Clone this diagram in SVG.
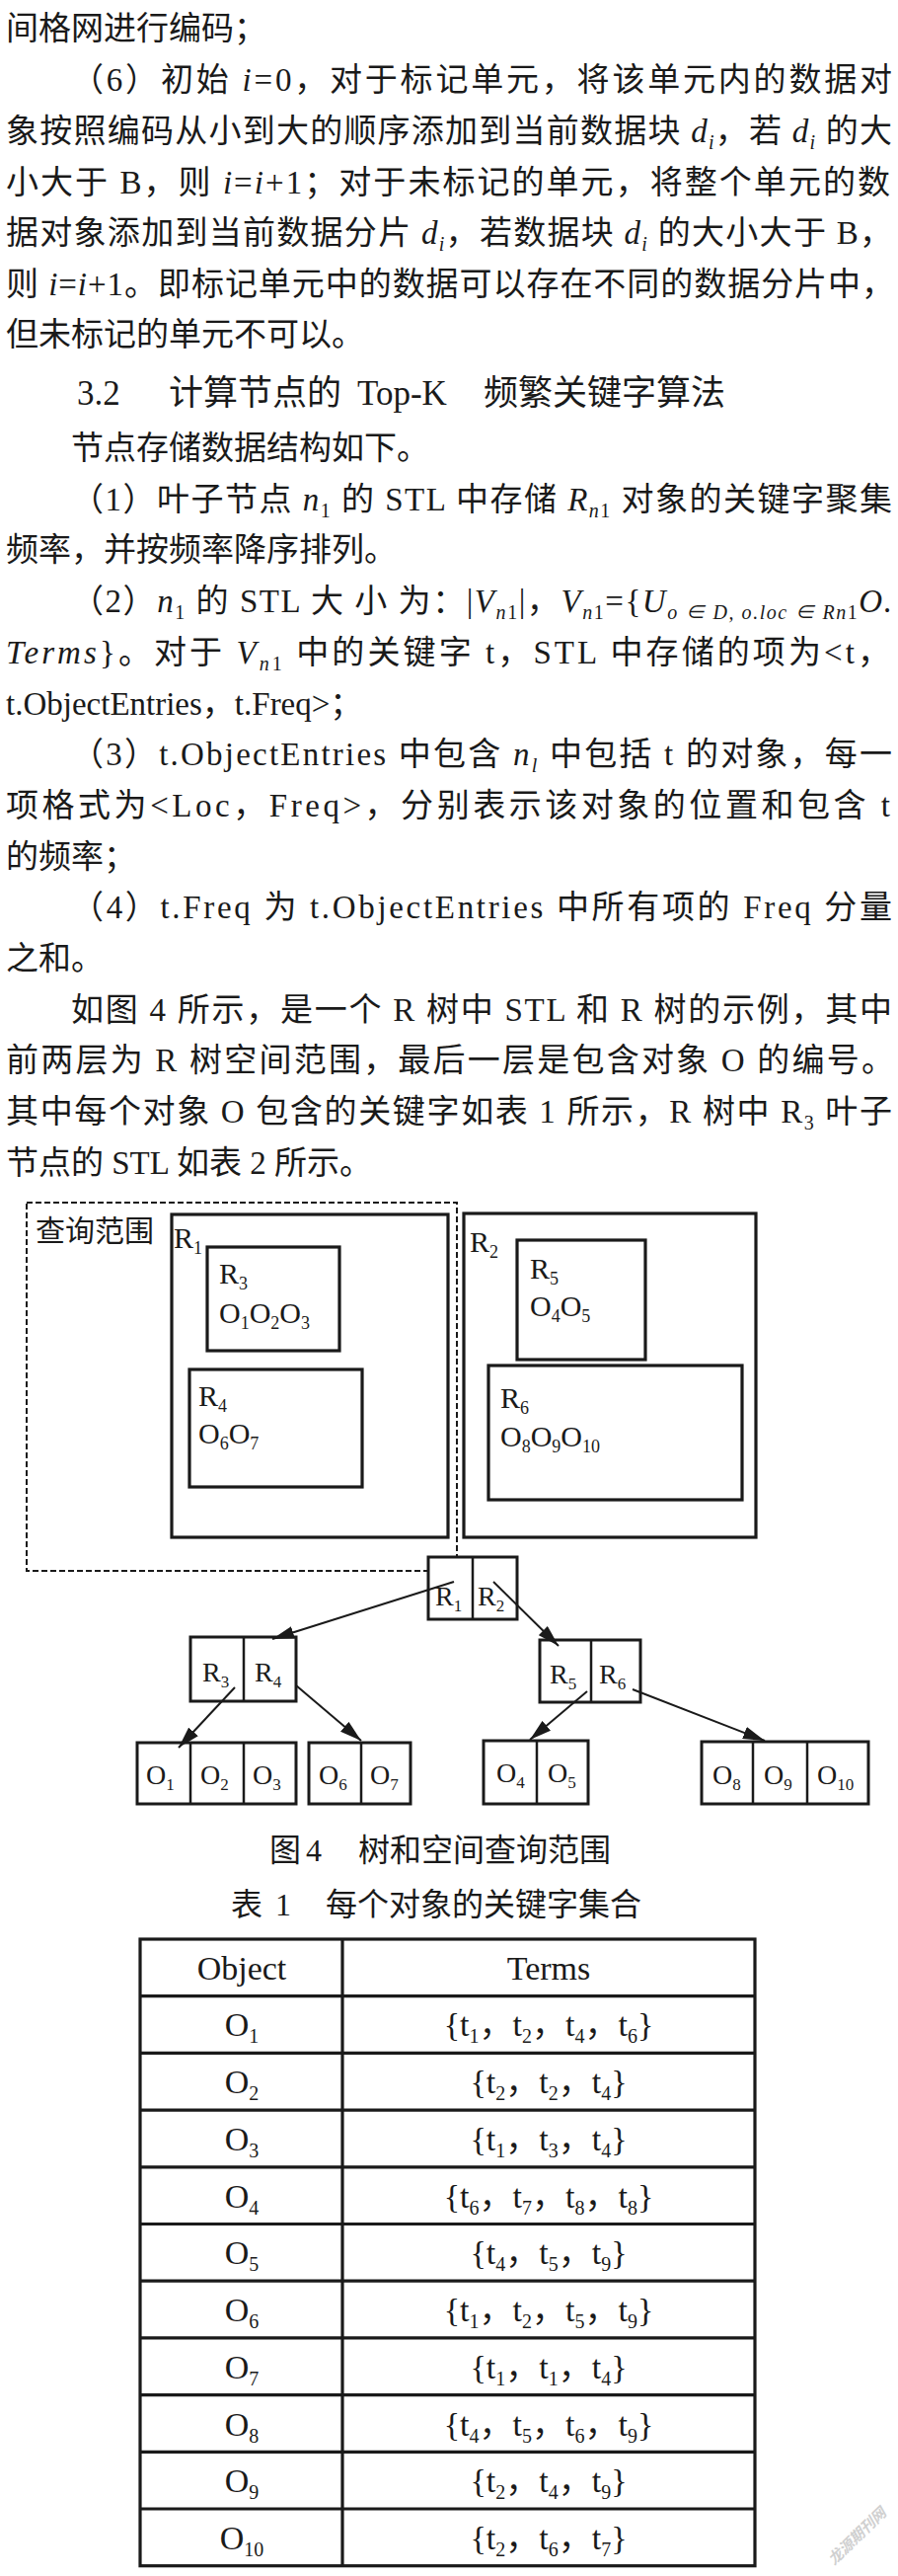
<svg xmlns="http://www.w3.org/2000/svg" width="910" height="2609" viewBox="0 0 910 2609">
<style>
.b{font-family:"Liberation Serif","Noto Sans CJK SC",serif;font-size:33px;fill:#1a1a1a}
.h{font-family:"Liberation Serif","Noto Sans CJK SC",serif;font-size:35px;fill:#1a1a1a}
.i{font-style:italic}
.s{font-size:20px}
.lb{font-family:"Liberation Serif","Noto Sans CJK SC",serif;font-size:30px;fill:#1a1a1a}
.ls{font-size:18px}
.tn{font-family:"Liberation Serif",serif;font-size:28px;fill:#1a1a1a}
.ts{font-size:17px}
.cap{font-family:"Liberation Serif","Noto Sans CJK SC",serif;font-size:32px;fill:#1a1a1a}
.tt{font-family:"Liberation Serif","Noto Sans CJK SC",serif;font-size:34px;fill:#1a1a1a;text-anchor:middle}
.tsub{font-size:20px}
.box{fill:none;stroke:#1a1a1a;stroke-width:3.2}
.nd{fill:#fff;stroke:#1a1a1a;stroke-width:3}
.dv{stroke:#1a1a1a;stroke-width:2.5}
.ar{stroke:#1a1a1a;stroke-width:2;fill:none;marker-end:url(#ah)}
.tl{stroke:#1a1a1a;stroke-width:3.2;fill:none}
</style>
<defs>
<marker id="ah" viewBox="0 0 22 13" refX="22" refY="6.5" markerWidth="22" markerHeight="13" markerUnits="userSpaceOnUse" orient="auto"><path d="M0,0 L22,6.5 L0,13 z" fill="#1a1a1a"/></marker>
</defs>
<rect x="0" y="0" width="910" height="2609" fill="#fff"/>

<g id="body-text">
<text class="b" x="6" y="40">间格网进行编码；</text>
<text class="b" x="72" y="92" textLength="832">（6）初始 <tspan class="i">i</tspan>=0，对于标记单元，将该单元内的数据对</text>
<text class="b" x="6" y="144" textLength="898">象按照编码从小到大的顺序添加到当前数据块 <tspan class="i">d</tspan><tspan class="s i" dy="7">i</tspan><tspan dy="-7">，若 </tspan><tspan class="i">d</tspan><tspan class="s i" dy="7">i</tspan><tspan dy="-7"> 的大</tspan></text>
<text class="b" x="6" y="196" textLength="896">小大于 B，则 <tspan class="i">i</tspan>=<tspan class="i">i</tspan>+1；对于未标记的单元，将整个单元的数</text>
<text class="b" x="6" y="247" textLength="898">据对象添加到当前数据分片 <tspan class="i">d</tspan><tspan class="s i" dy="7">i</tspan><tspan dy="-7">，若数据块 </tspan><tspan class="i">d</tspan><tspan class="s i" dy="7">i</tspan><tspan dy="-7"> 的大小大于 B，</tspan></text>
<text class="b" x="6" y="299" textLength="900">则 <tspan class="i">i</tspan>=<tspan class="i">i</tspan>+1。即标记单元中的数据可以存在不同的数据分片中，</text>
<text class="b" x="6" y="350">但未标记的单元不可以。</text>
<text class="h" x="78" y="410">3.2<tspan x="171">计算节点的</tspan><tspan x="362">Top-K</tspan><tspan x="490">频繁关键字算法</tspan></text>
<text class="b" x="72" y="465">节点存储数据结构如下。</text>
<text class="b" x="72" y="517" textLength="832">（1）叶子节点 <tspan class="i">n</tspan><tspan class="s" dy="7">1</tspan><tspan dy="-7"> 的 STL 中存储 </tspan><tspan class="i">R</tspan><tspan class="s i" dy="7">n</tspan><tspan class="s">1</tspan><tspan dy="-7"> 对象的关键字聚集</tspan></text>
<text class="b" x="6" y="568">频率，并按频率降序排列。</text>
<text class="b" x="72" y="620" textLength="832">（2）<tspan class="i">n</tspan><tspan class="s" dy="7">1</tspan><tspan dy="-7"> 的 STL 大 小 为：|</tspan><tspan class="i">V</tspan><tspan class="s i" dy="7">n</tspan><tspan class="s">1</tspan><tspan dy="-7">|，</tspan><tspan class="i">V</tspan><tspan class="s i" dy="7">n</tspan><tspan class="s">1</tspan><tspan dy="-7">={</tspan><tspan class="i">U</tspan><tspan class="s i" dy="7">o ∈ D, o.loc ∈ Rn</tspan><tspan class="s">1</tspan><tspan class="i" dy="-7">O.</tspan></text>
<text class="b" x="6" y="672" textLength="896"><tspan class="i">Terms</tspan>}。对于 <tspan class="i">V</tspan><tspan class="s i" dy="7">n</tspan><tspan class="s">1</tspan><tspan dy="-7"> 中的关键字 t，STL 中存储的项为&lt;t，</tspan></text>
<text class="b" x="6" y="724">t.ObjectEntries，t.Freq&gt;；</text>
<text class="b" x="72" y="775" textLength="832">（3）t.ObjectEntries 中包含 <tspan class="i">n</tspan><tspan class="s i" dy="7">l</tspan><tspan dy="-7"> 中包括 t 的对象，每一</tspan></text>
<text class="b" x="6" y="827" textLength="896">项格式为&lt;Loc，Freq&gt;，分别表示该对象的位置和包含 t</text>
<text class="b" x="6" y="879">的频率；</text>
<text class="b" x="72" y="930" textLength="832">（4）t.Freq 为 t.ObjectEntries 中所有项的 Freq 分量</text>
<text class="b" x="6" y="982">之和。</text>
<text class="b" x="72" y="1034" textLength="832">如图 4 所示，是一个 R 树中 STL 和 R 树的示例，其中</text>
<text class="b" x="6" y="1085" textLength="900">前两层为 R 树空间范围，最后一层是包含对象 O 的编号。</text>
<text class="b" x="6" y="1137" textLength="898">其中每个对象 O 包含的关键字如表 1 所示，R 树中 R<tspan class="s" dy="7">3</tspan><tspan dy="-7"> 叶子</tspan></text>
<text class="b" x="6" y="1189">节点的 STL 如表 2 所示。</text>
</g>

<g id="spatial-layout">
<g id="query-range">
<rect x="27" y="1218" width="436" height="373" fill="none" stroke="#1a1a1a" stroke-width="2" stroke-dasharray="6 3"/>
<text class="lb" x="36" y="1257">查询范围</text>
</g>
<g id="region-R1">
<rect class="box" x="174" y="1230" width="280" height="327"/>
<text class="lb" x="176" y="1264">R<tspan class="ls" dy="6">1</tspan></text>
</g>
<g id="region-R3">
<rect class="box" x="210" y="1263" width="134" height="105"/>
<text class="lb" x="222" y="1300">R<tspan class="ls" dy="6">3</tspan></text>
<text class="lb" x="222" y="1340">O<tspan class="ls" dy="6">1</tspan><tspan dy="-6">O</tspan><tspan class="ls" dy="6">2</tspan><tspan dy="-6">O</tspan><tspan class="ls" dy="6">3</tspan></text>
</g>
<g id="region-R4">
<rect class="box" x="192" y="1387" width="175" height="119"/>
<text class="lb" x="201" y="1424">R<tspan class="ls" dy="6">4</tspan></text>
<text class="lb" x="201" y="1462">O<tspan class="ls" dy="6">6</tspan><tspan dy="-6">O</tspan><tspan class="ls" dy="6">7</tspan></text>
</g>
<g id="region-R2">
<rect class="box" x="470" y="1229" width="296" height="328"/>
<text class="lb" x="476" y="1268">R<tspan class="ls" dy="6">2</tspan></text>
</g>
<g id="region-R5">
<rect class="box" x="524" y="1256" width="130" height="121"/>
<text class="lb" x="537" y="1295">R<tspan class="ls" dy="6">5</tspan></text>
<text class="lb" x="537" y="1333">O<tspan class="ls" dy="6">4</tspan><tspan dy="-6">O</tspan><tspan class="ls" dy="6">5</tspan></text>
</g>
<g id="region-R6">
<rect class="box" x="495" y="1383" width="257" height="136"/>
<text class="lb" x="507" y="1426">R<tspan class="ls" dy="6">6</tspan></text>
<text class="lb" x="507" y="1465">O<tspan class="ls" dy="6">8</tspan><tspan dy="-6">O</tspan><tspan class="ls" dy="6">9</tspan><tspan dy="-6">O</tspan><tspan class="ls" dy="6">10</tspan></text>
</g>
</g>

<g id="tree">
<g id="node-root">
<rect class="nd" x="434" y="1577" width="90" height="63"/>
<line class="dv" x1="479" y1="1577" x2="479" y2="1640"/>
<text class="tn" x="441" y="1626">R<tspan class="ts" dy="6">1</tspan></text>
<text class="tn" x="484" y="1626">R<tspan class="ts" dy="6">2</tspan></text>
</g>
<g id="node-R3R4">
<rect class="nd" x="193" y="1658" width="107" height="65"/>
<line class="dv" x1="247" y1="1658" x2="247" y2="1723"/>
<text class="tn" x="205" y="1703">R<tspan class="ts" dy="6">3</tspan></text>
<text class="tn" x="258" y="1703">R<tspan class="ts" dy="6">4</tspan></text>
</g>
<g id="node-R5R6">
<rect class="nd" x="547" y="1661" width="102" height="63"/>
<line class="dv" x1="599" y1="1661" x2="599" y2="1724"/>
<text class="tn" x="557" y="1705">R<tspan class="ts" dy="6">5</tspan></text>
<text class="tn" x="607" y="1705">R<tspan class="ts" dy="6">6</tspan></text>
</g>
<g id="leaf-O1O2O3">
<rect class="nd" x="139" y="1765" width="161" height="62"/>
<line class="dv" x1="193" y1="1765" x2="193" y2="1827"/>
<line class="dv" x1="247" y1="1765" x2="247" y2="1827"/>
<text class="tn" x="148" y="1807">O<tspan class="ts" dy="6">1</tspan></text>
<text class="tn" x="203" y="1807">O<tspan class="ts" dy="6">2</tspan></text>
<text class="tn" x="256" y="1807">O<tspan class="ts" dy="6">3</tspan></text>
</g>
<g id="leaf-O6O7">
<rect class="nd" x="313" y="1765" width="103" height="62"/>
<line class="dv" x1="366" y1="1765" x2="366" y2="1827"/>
<text class="tn" x="323" y="1807">O<tspan class="ts" dy="6">6</tspan></text>
<text class="tn" x="375" y="1807">O<tspan class="ts" dy="6">7</tspan></text>
</g>
<g id="leaf-O4O5">
<rect class="nd" x="490" y="1763" width="106" height="64"/>
<line class="dv" x1="544" y1="1763" x2="544" y2="1827"/>
<text class="tn" x="503" y="1805">O<tspan class="ts" dy="6">4</tspan></text>
<text class="tn" x="555" y="1805">O<tspan class="ts" dy="6">5</tspan></text>
</g>
<g id="leaf-O8O9O10">
<rect class="nd" x="711" y="1764" width="169" height="63"/>
<line class="dv" x1="763" y1="1764" x2="763" y2="1827"/>
<line class="dv" x1="818" y1="1764" x2="818" y2="1827"/>
<text class="tn" x="722" y="1807">O<tspan class="ts" dy="6">8</tspan></text>
<text class="tn" x="774" y="1807">O<tspan class="ts" dy="6">9</tspan></text>
<text class="tn" x="828" y="1807">O<tspan class="ts" dy="6">10</tspan></text>
</g>
</g>

<g id="connectors">
<line class="ar" x1="460" y1="1602" x2="276" y2="1660"/>
<line class="ar" x1="500" y1="1602" x2="566" y2="1667"/>
<line class="ar" x1="238" y1="1709" x2="181" y2="1770"/>
<line class="ar" x1="300" y1="1707" x2="366" y2="1763"/>
<line class="ar" x1="595" y1="1713" x2="537" y2="1762"/>
<line class="ar" x1="641" y1="1711" x2="775" y2="1763"/>
</g>

<g id="captions">
<text class="cap" x="273" y="1885">图 <tspan x="310">4</tspan><tspan x="363">树和空间查询范围</tspan></text>
<text class="cap" x="234" y="1940">表 <tspan x="279">1</tspan><tspan x="330">每个对象的关键字集合</tspan></text>
</g>

<g id="table1">
<rect class="tl" x="142" y="1964" width="623" height="634.7"/>
<line class="tl" x1="347" y1="1964" x2="347" y2="2598.7"/>
<line class="tl" x1="142" y1="2021.7" x2="765" y2="2021.7"/>
<line class="tl" x1="142" y1="2079.4" x2="765" y2="2079.4"/>
<line class="tl" x1="142" y1="2137.1" x2="765" y2="2137.1"/>
<line class="tl" x1="142" y1="2194.8" x2="765" y2="2194.8"/>
<line class="tl" x1="142" y1="2252.5" x2="765" y2="2252.5"/>
<line class="tl" x1="142" y1="2310.2" x2="765" y2="2310.2"/>
<line class="tl" x1="142" y1="2367.9" x2="765" y2="2367.9"/>
<line class="tl" x1="142" y1="2425.6" x2="765" y2="2425.6"/>
<line class="tl" x1="142" y1="2483.3" x2="765" y2="2483.3"/>
<line class="tl" x1="142" y1="2541" x2="765" y2="2541"/>
<text class="tt" x="245" y="2005">Object</text>
<text class="tt" x="556" y="2005">Terms</text>
<text class="tt" x="245" y="2062">O<tspan class="tsub" dy="7">1</tspan></text>
<text class="tt" x="556" y="2062">{t<tspan class="tsub" dy="7">1</tspan><tspan dy="-7">，t</tspan><tspan class="tsub" dy="7">2</tspan><tspan dy="-7">，t</tspan><tspan class="tsub" dy="7">4</tspan><tspan dy="-7">，t</tspan><tspan class="tsub" dy="7">6</tspan><tspan dy="-7">}</tspan></text>
<text class="tt" x="245" y="2120">O<tspan class="tsub" dy="7">2</tspan></text>
<text class="tt" x="556" y="2120">{t<tspan class="tsub" dy="7">2</tspan><tspan dy="-7">，t</tspan><tspan class="tsub" dy="7">2</tspan><tspan dy="-7">，t</tspan><tspan class="tsub" dy="7">4</tspan><tspan dy="-7">}</tspan></text>
<text class="tt" x="245" y="2178">O<tspan class="tsub" dy="7">3</tspan></text>
<text class="tt" x="556" y="2178">{t<tspan class="tsub" dy="7">1</tspan><tspan dy="-7">，t</tspan><tspan class="tsub" dy="7">3</tspan><tspan dy="-7">，t</tspan><tspan class="tsub" dy="7">4</tspan><tspan dy="-7">}</tspan></text>
<text class="tt" x="245" y="2236">O<tspan class="tsub" dy="7">4</tspan></text>
<text class="tt" x="556" y="2236">{t<tspan class="tsub" dy="7">6</tspan><tspan dy="-7">，t</tspan><tspan class="tsub" dy="7">7</tspan><tspan dy="-7">，t</tspan><tspan class="tsub" dy="7">8</tspan><tspan dy="-7">，t</tspan><tspan class="tsub" dy="7">8</tspan><tspan dy="-7">}</tspan></text>
<text class="tt" x="245" y="2293">O<tspan class="tsub" dy="7">5</tspan></text>
<text class="tt" x="556" y="2293">{t<tspan class="tsub" dy="7">4</tspan><tspan dy="-7">，t</tspan><tspan class="tsub" dy="7">5</tspan><tspan dy="-7">，t</tspan><tspan class="tsub" dy="7">9</tspan><tspan dy="-7">}</tspan></text>
<text class="tt" x="245" y="2351">O<tspan class="tsub" dy="7">6</tspan></text>
<text class="tt" x="556" y="2351">{t<tspan class="tsub" dy="7">1</tspan><tspan dy="-7">，t</tspan><tspan class="tsub" dy="7">2</tspan><tspan dy="-7">，t</tspan><tspan class="tsub" dy="7">5</tspan><tspan dy="-7">，t</tspan><tspan class="tsub" dy="7">9</tspan><tspan dy="-7">}</tspan></text>
<text class="tt" x="245" y="2409">O<tspan class="tsub" dy="7">7</tspan></text>
<text class="tt" x="556" y="2409">{t<tspan class="tsub" dy="7">1</tspan><tspan dy="-7">，t</tspan><tspan class="tsub" dy="7">1</tspan><tspan dy="-7">，t</tspan><tspan class="tsub" dy="7">4</tspan><tspan dy="-7">}</tspan></text>
<text class="tt" x="245" y="2467">O<tspan class="tsub" dy="7">8</tspan></text>
<text class="tt" x="556" y="2467">{t<tspan class="tsub" dy="7">4</tspan><tspan dy="-7">，t</tspan><tspan class="tsub" dy="7">5</tspan><tspan dy="-7">，t</tspan><tspan class="tsub" dy="7">6</tspan><tspan dy="-7">，t</tspan><tspan class="tsub" dy="7">9</tspan><tspan dy="-7">}</tspan></text>
<text class="tt" x="245" y="2524">O<tspan class="tsub" dy="7">9</tspan></text>
<text class="tt" x="556" y="2524">{t<tspan class="tsub" dy="7">2</tspan><tspan dy="-7">，t</tspan><tspan class="tsub" dy="7">4</tspan><tspan dy="-7">，t</tspan><tspan class="tsub" dy="7">9</tspan><tspan dy="-7">}</tspan></text>
<text class="tt" x="245" y="2582">O<tspan class="tsub" dy="7">10</tspan></text>
<text class="tt" x="556" y="2582">{t<tspan class="tsub" dy="7">2</tspan><tspan dy="-7">，t</tspan><tspan class="tsub" dy="7">6</tspan><tspan dy="-7">，t</tspan><tspan class="tsub" dy="7">7</tspan><tspan dy="-7">}</tspan></text>
</g>

<g id="watermark">
<text x="868" y="2574" transform="rotate(-44 868 2568)" font-family="Noto Sans CJK SC, sans-serif" font-size="15" font-style="italic" font-weight="bold" fill="#d0d0d0" text-anchor="middle">龙源期刊网</text>
</g>
</svg>
